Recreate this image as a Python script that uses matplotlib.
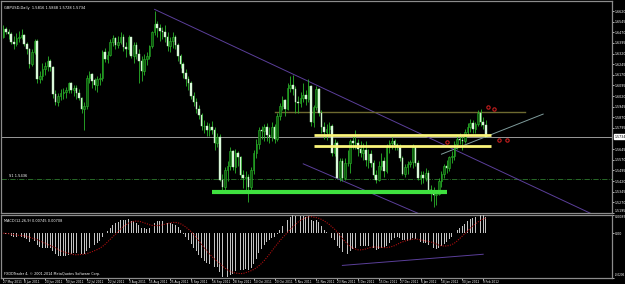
import numpy as np
import pandas as pd
import matplotlib.pyplot as plt

# GBPUSD daily bars, 27 May 2011 - 10 Feb 2012
dates = pd.bdate_range('2011-05-27', '2012-02-10')
first_open = 1.6440
close = [
    1.6495, 1.6470, 1.6455, 1.6405, 1.6390, 1.6430, 1.6440, 1.6450, 1.6390, 1.6350,
    1.6245, 1.6330, 1.6410, 1.6140, 1.6160, 1.6210, 1.6230, 1.6270, 1.6225, 1.6035,
    1.5975, 1.6020, 1.6040, 1.6050, 1.6065, 1.6110, 1.6065, 1.6080, 1.6040, 1.6010,
    1.5930, 1.5950, 1.6150, 1.6175, 1.6130, 1.6095, 1.6140, 1.6150, 1.6330, 1.6280,
    1.6310, 1.6400, 1.6430, 1.6380, 1.6400, 1.6435, 1.6365, 1.6350, 1.6440, 1.6300,
    1.6380, 1.6320, 1.6270, 1.6195, 1.6280, 1.6300, 1.6370, 1.6470, 1.6530, 1.6500,
    1.6480, 1.6470, 1.6440, 1.6375, 1.6410, 1.6440, 1.6380, 1.6300, 1.6245, 1.6180,
    1.6140, 1.6110, 1.6020, 1.5980, 1.5930, 1.5890, 1.5810, 1.5810, 1.5780, 1.5800,
    1.5780, 1.5690, 1.5730, 1.5430, 1.5380, 1.5495, 1.5530, 1.5630, 1.5520, 1.5620,
    1.5590, 1.5465, 1.5440, 1.5450, 1.5380, 1.5500, 1.5615, 1.5685, 1.5780, 1.5775,
    1.5800, 1.5745, 1.5730, 1.5800, 1.5720, 1.5880, 1.5950, 1.5990, 1.5930, 1.6080,
    1.6100, 1.6070, 1.5980, 1.5970, 1.6010, 1.6025, 1.6000, 1.6090, 1.5835, 1.5945,
    1.6070, 1.5900, 1.5800, 1.5765, 1.5790, 1.5810, 1.5620, 1.5690, 1.5445, 1.5560,
    1.5440, 1.5550, 1.5550, 1.5700, 1.5690, 1.5690, 1.5650, 1.5620, 1.5640, 1.5570,
    1.5610, 1.5550, 1.5460, 1.5430, 1.5530, 1.5560, 1.5490, 1.5660, 1.5690, 1.5700,
    1.5675, 1.5665, 1.5580, 1.5470, 1.5520, 1.5540, 1.5555, 1.5660, 1.5550, 1.5440,
    1.5465, 1.5440, 1.5480, 1.5360, 1.5345, 1.5320, 1.5330, 1.5420, 1.5470, 1.5530,
    1.5510, 1.5590, 1.5600, 1.5680, 1.5720, 1.5710, 1.5700, 1.5770, 1.5800, 1.5830,
    1.5790, 1.5820, 1.5900, 1.5835, 1.5816, 1.5734,
]
high = [
    1.6520, 1.6510, 1.6490, 1.6470, 1.6445, 1.6465, 1.6480, 1.6495, 1.6460, 1.6405,
    1.6360, 1.6350, 1.6425, 1.6420, 1.6200, 1.6250, 1.6260, 1.6300, 1.6285, 1.6230,
    1.6060, 1.6045, 1.6070, 1.6080, 1.6085, 1.6120, 1.6120, 1.6100, 1.6100, 1.6070,
    1.6015, 1.5975, 1.6170, 1.6200, 1.6185, 1.6150, 1.6160, 1.6185, 1.6345, 1.6360,
    1.6340, 1.6420, 1.6450, 1.6440, 1.6445, 1.6475, 1.6460, 1.6400, 1.6450, 1.6440,
    1.6405, 1.6400, 1.6350, 1.6300, 1.6320, 1.6330, 1.6380, 1.6480, 1.6618, 1.6550,
    1.6530, 1.6510, 1.6520, 1.6470, 1.6440, 1.6475, 1.6450, 1.6395, 1.6320, 1.6260,
    1.6210, 1.6160, 1.6130, 1.6050, 1.6010, 1.5960, 1.5900, 1.5850, 1.5840, 1.5830,
    1.5845, 1.5800, 1.5760, 1.5750, 1.5470, 1.5520, 1.5560, 1.5660, 1.5640, 1.5650,
    1.5630, 1.5600, 1.5500, 1.5490, 1.5470, 1.5520, 1.5640, 1.5720, 1.5800, 1.5810,
    1.5820, 1.5830, 1.5800, 1.5840, 1.5820, 1.5900, 1.5970, 1.6020, 1.6000, 1.6110,
    1.6160, 1.6166, 1.6090, 1.6020, 1.6050, 1.6110, 1.6060, 1.6140, 1.6100, 1.5960,
    1.6090, 1.6080, 1.5920, 1.5840, 1.5820, 1.5840, 1.5820, 1.5720, 1.5700, 1.5580,
    1.5580, 1.5580, 1.5640, 1.5720, 1.5740, 1.5780, 1.5720, 1.5700, 1.5690, 1.5700,
    1.5650, 1.5640, 1.5570, 1.5500, 1.5560, 1.5620, 1.5590, 1.5680, 1.5710, 1.5730,
    1.5720, 1.5690, 1.5680, 1.5600, 1.5540, 1.5560, 1.5570, 1.5680, 1.5670, 1.5570,
    1.5490, 1.5490, 1.5510, 1.5500, 1.5390, 1.5380, 1.5350, 1.5440, 1.5490, 1.5540,
    1.5570, 1.5600, 1.5630, 1.5700, 1.5740, 1.5760, 1.5740, 1.5790, 1.5830, 1.5860,
    1.5850, 1.5840, 1.5925, 1.5930, 1.5870, 1.5848,
]
low = [
    1.6430, 1.6455, 1.6420, 1.6385, 1.6350, 1.6370, 1.6400, 1.6420, 1.6370, 1.6320,
    1.6220, 1.6230, 1.6320, 1.6110, 1.6110, 1.6135, 1.6170, 1.6200, 1.6195, 1.6010,
    1.5960, 1.5950, 1.5990, 1.6000, 1.6010, 1.6040, 1.6040, 1.6020, 1.6000, 1.5990,
    1.5900, 1.5780, 1.5930, 1.6110, 1.6080, 1.6060, 1.6050, 1.6100, 1.6130, 1.6260,
    1.6250, 1.6300, 1.6370, 1.6350, 1.6360, 1.6390, 1.6340, 1.6295, 1.6320, 1.6290,
    1.6250, 1.6280, 1.6115, 1.6130, 1.6170, 1.6240, 1.6280, 1.6360, 1.6450, 1.6440,
    1.6410, 1.6420, 1.6400, 1.6340, 1.6330, 1.6360, 1.6350, 1.6270, 1.6220, 1.6150,
    1.6090, 1.6060, 1.6000, 1.5950, 1.5900, 1.5860, 1.5780, 1.5760, 1.5740, 1.5740,
    1.5750, 1.5640, 1.5660, 1.5420, 1.5350, 1.5360, 1.5420, 1.5500, 1.5500, 1.5480,
    1.5530, 1.5440, 1.5370, 1.5350, 1.5272, 1.5340, 1.5470, 1.5580, 1.5650, 1.5720,
    1.5700, 1.5700, 1.5690, 1.5700, 1.5690, 1.5700, 1.5850, 1.5920, 1.5880, 1.5920,
    1.6050, 1.6030, 1.5900, 1.5900, 1.5940, 1.5980, 1.5960, 1.5980, 1.5810, 1.5800,
    1.5920, 1.5880, 1.5760, 1.5720, 1.5710, 1.5740, 1.5600, 1.5600, 1.5440, 1.5420,
    1.5420, 1.5430, 1.5530, 1.5480, 1.5650, 1.5650, 1.5600, 1.5590, 1.5570, 1.5530,
    1.5510, 1.5520, 1.5440, 1.5410, 1.5420, 1.5500, 1.5450, 1.5480, 1.5620, 1.5650,
    1.5640, 1.5640, 1.5560, 1.5460, 1.5450, 1.5470, 1.5520, 1.5510, 1.5530, 1.5430,
    1.5400, 1.5410, 1.5420, 1.5340, 1.5280, 1.5234, 1.5250, 1.5320, 1.5380, 1.5440,
    1.5480, 1.5490, 1.5550, 1.5570, 1.5650, 1.5680, 1.5640, 1.5690, 1.5740, 1.5770,
    1.5760, 1.5760, 1.5810, 1.5810, 1.5790, 1.5728,
]

# chart objects (time, price)
channel_top = (['2011-08-17', '2012-01-11'], [1.6632, 1.5728])
channel_low = (['2011-11-04', '2011-11-25'], [1.5542, 1.5423])
rising_line = (['2012-01-18', '2012-03-13'], [1.5610, 1.5893])
olive_level = (['2011-10-20', '2012-03-02'], 1.5907)
yellow_levels = (['2011-11-10', '2012-02-14'], [1.5742, 1.5668])
green_level = (['2011-09-16', '2012-01-20'], 1.5344)
fibo_level = 1.5436
red_marks = (['2012-01-20', '2012-02-13', '2012-02-15', '2012-02-17', '2012-02-22'],
             [1.5696, 1.5943, 1.5929, 1.5710, 1.5710])
macd_trend = (['2011-11-25', '2012-02-09'], [-0.0150, -0.0098])

price_ticks = [1.5195, 1.5270, 1.5345, 1.5420, 1.5495, 1.5570, 1.5645, 1.5795,
               1.5870, 1.5945, 1.6020, 1.6095, 1.6170, 1.6245, 1.6320, 1.6395,
               1.6470, 1.6545, 1.6620]
date_ticks = ['2011-05-27', '2011-06-08', '2011-06-20', '2011-06-30', '2011-07-12',
              '2011-07-22', '2011-08-03', '2011-08-15', '2011-08-25', '2011-09-06',
              '2011-09-16', '2011-09-28', '2011-10-10', '2011-10-20', '2011-11-01',
              '2011-11-11', '2011-11-23', '2011-12-05', '2011-12-15', '2011-12-27',
              '2012-01-06', '2012-01-18', '2012-01-30', '2012-02-09']


def bar_of(day):
    return np.busday_count(np.datetime64(dates[0].date()), np.datetime64(day))


close = np.array(close)
high = np.array(high)
low = np.array(low)
opens = np.r_[first_open, close[:-1]]
idx = np.arange(len(close))

s = pd.Series(close)
macd = (s.ewm(span=12, adjust=False).mean() - s.ewm(span=26, adjust=False).mean()).values
signal = pd.Series(macd).rolling(9, min_periods=1).mean().values

W, H = 625, 284
fig = plt.figure(figsize=(W / 100, H / 100), dpi=100, facecolor='black')
ax = fig.add_axes([0.002, 1 - 213 / H, 612 / W - 0.002, 212 / H], facecolor='black')
ax2 = fig.add_axes([0.002, 1 - 277.5 / H, 612 / W - 0.002, 62.5 / H], facecolor='black')

xlim = (-0.8, 233.4)
small = 2.3
for a in (ax, ax2):
    a.set_xlim(*xlim)
    for sp in a.spines.values():
        sp.set_color('#8c8c8c')
        sp.set_linewidth(0.9)
    a.yaxis.tick_right()
    a.tick_params(axis='y', colors='white', labelsize=small, length=1.5, width=0.5, pad=0.6)
ax.set_ylim(1.5195, 1.6691)
ax.set_xticks([])

# candles
wick_c = '#2bb52b'
up = close >= opens
ax.vlines(idx, low, high, color=wick_c, lw=0.6, zorder=3)
ax.bar(idx[up], close[up] - opens[up], bottom=opens[up], width=0.6,
       color='#0d5a0d', edgecolor=wick_c, lw=0.4, zorder=4)
ax.bar(idx[~up], opens[~up] - close[~up], bottom=close[~up], width=0.6,
       color='#e4fbe4', edgecolor='#b8f0b8', lw=0.3, zorder=4)

# levels and lines
ax.axhline(close[-1], color='#9a9a9a', lw=0.7, zorder=2)
ax.axhline(fibo_level, color='#2e7a2e', lw=0.6, ls='-.', zorder=2)
ax.text(2, fibo_level + 0.0004, 'S1 1.5436', color='white', fontsize=2.6, va='bottom')

x_right = xlim[1]


def ray(a, obj, **kw):
    (d1, d2), (p1, p2) = obj
    x1, x2 = bar_of(d1), bar_of(d2)
    k = (p2 - p1) / (x2 - x1)
    a.plot([x1, x_right], [p1, p1 + k * (x_right - x1)], **kw)


ray(ax, channel_top, color='#5b3f9a', lw=0.7, zorder=2)
ray(ax, channel_low, color='#5b3f9a', lw=0.7, zorder=2)
(d1, d2), (p1, p2) = rising_line
ax.plot([bar_of(d1), bar_of(d2)], [p1, p2], color='#7f9c9c', lw=0.7, zorder=2)
(d1, d2), lvl = olive_level
ax.plot([bar_of(d1), bar_of(d2)], [lvl, lvl], color='#6e6a30', lw=1.0, zorder=2)
(d1, d2), lvls = yellow_levels
for lvl in lvls:
    ax.plot([bar_of(d1), bar_of(d2)], [lvl, lvl], color='#fbf57a', lw=2.0, zorder=5,
            solid_capstyle='butt')
(d1, d2), lvl = green_level
ax.plot([bar_of(d1), bar_of(d2)], [lvl, lvl], color='#3fe03f', lw=3.0, zorder=5,
        solid_capstyle='butt')
ax.plot([bar_of(d) for d in red_marks[0]], red_marks[1], 'o', ms=2.4,
        mfc='none', mec='#c81e1e', mew=0.8, zorder=6)

ax.set_yticks(price_ticks)
ax.set_yticklabels([f'{p:.4f}' for p in price_ticks])
ax.get_yticklabels()[0].set_va('bottom')
ax.text(1.004, close[-1], f'{close[-1]:.4f}', transform=ax.get_yaxis_transform(),
        fontsize=small, color='black', va='center', ha='left',
        bbox=dict(boxstyle='square,pad=0.12', fc='white', ec='white'))
ax.text(0.005, 0.978, 'GBPUSD,Daily  1.5816 1.5848 1.5728 1.5734', transform=ax.transAxes,
        color='white', fontsize=2.6, va='top')

# MACD subwindow
ax2.bar(idx, macd, width=0.35, color='#c4c4c4', zorder=3)
ax2.plot(idx, signal, color='#b01010', lw=0.8, ls=(0, (1, 1.2)), zorder=4)
(d1, d2), (m1, m2) = macd_trend
ax2.plot([bar_of(d1), bar_of(d2)], [m1, m2], color='#5b3f9a', lw=0.7, zorder=5)
vmax = max(macd.max(), signal.max())
vmin = min(macd.min(), signal.min())
ax2.set_ylim(vmin, vmax)
ax2.set_yticks([vmax, 0, vmin])
ax2.set_yticklabels([f'{vmax:.4f}', '0.00', f'{vmin:.4f}'])
labs = ax2.get_yticklabels()
labs[0].set_va('top')
labs[2].set_va('bottom')
labs[2].set_fontsize(1.95)
ax2.text(0.005, 0.9, f'MACD(12,26,9) {macd[-1]:.5f} {signal[-1]:.5f}', transform=ax2.transAxes,
         color='white', fontsize=2.5, va='center')
ax2.text(0.005, 0.06, 'FXDDTrader 4, \u00a9 2001-2014 MetaQuotes Software Corp.',
         transform=ax2.transAxes, color='white', fontsize=2.4, va='center')

ax2.set_xticks([bar_of(d) for d in date_ticks])
ax2.set_xticklabels([pd.Timestamp(d).strftime('%-d %b %Y') for d in date_ticks],
                    ha='left')
ax2.tick_params(axis='x', colors='white', labelsize=2.1, length=1.5, width=0.5, pad=0.5)

fig.savefig('out.png', dpi=100, facecolor='black')
